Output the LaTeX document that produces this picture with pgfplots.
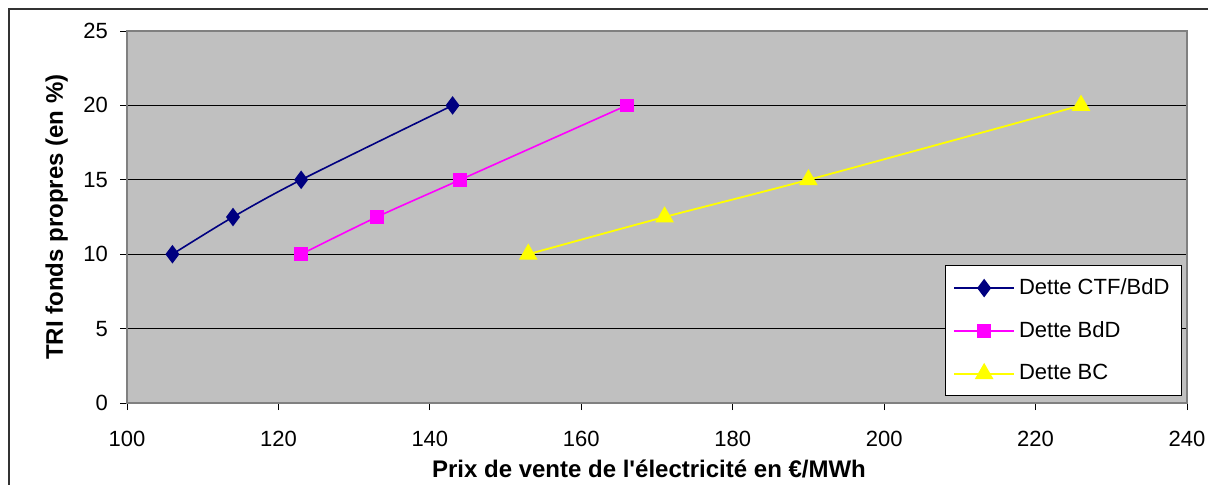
\documentclass[border=0pt]{standalone}
\usepackage{pgfplots}
\pgfplotsset{compat=1.18}
\usepackage{fontspec}
\setmainfont{Liberation Sans}[Ligatures=TeXOff]
\definecolor{plotbg}{HTML}{C0C0C0}
\definecolor{navyc}{HTML}{000080}
\definecolor{magc}{HTML}{FF00FF}
\definecolor{yelc}{HTML}{FFFF00}
\begin{document}
\begin{tikzpicture}[x=1pt,y=1pt]
\useasboundingbox (0,0) rectangle (604,242);
\draw[line width=0.9pt, black!80] (4.5,-2) -- (4.5,237.5) -- (606,237.5);
\begin{axis}[
  at={(63.5pt,40.5pt)}, anchor=south west,
  scale only axis, width=530pt, height=186pt,
  xmin=100, xmax=240, ymin=0, ymax=25,
  xtick={100,120,...,240}, ytick={0,5,...,25},
  xtick pos=lower, ytick pos=left,
  axis background/.style={fill=plotbg},
  axis line style={draw=black!50, line width=0.8pt},
  ymajorgrids, grid style={black, line width=0.5pt},
  tick align=outside, major tick length=3.5pt,
  tick style={black, line width=0.5pt},
  /pgf/number format/assume math mode=true,
  /pgf/number format/1000 sep={},
  tick label style={font=\fontsize{11}{13}\selectfont},
  xticklabel style={yshift=-7pt},
  yticklabel style={xshift=-2.5pt},
  xlabel={\textbf{Prix de vente de l'électricité en €/MWh}},
  ylabel={\textbf{TRI fonds propres (en \%)}},
  label style={font=\fontsize{12}{14}\selectfont},
  xlabel style={yshift=0pt, xshift=-4pt},
  ylabel style={yshift=1pt},
  legend style={at={(0.9953,0.371)}, anchor=north east, fill=white, draw=black, line width=0.6pt,
    font=\fontsize{11}{13}\selectfont, row sep=8pt, inner xsep=4pt, inner ysep=4.5pt},
  legend cell align=left,
  legend image code/.code={\draw[#1, mark repeat=2, mark phase=2] plot coordinates {(0pt,0pt) (15pt,0pt) (30pt,0pt)};},
  clip=false,
]
\addplot[navyc, line width=0.8pt, smooth, tension=0.5, mark=diamond*, mark size=4pt, mark options={solid}] coordinates {
(106,10) (114,12.5) (123,15) (143,20)};
\addlegendentry{Dette CTF/BdD}
\addplot[magc, line width=0.8pt, smooth, tension=0.5, mark=square*, mark size=3pt] coordinates {
(123,10) (133,12.5) (144,15) (166,20)};
\addlegendentry{Dette BdD}
\addplot[yelc, line width=0.9pt, smooth, tension=0.5, mark=triangle*, mark size=4.5pt] coordinates {
(153,10) (171,12.5) (190,15) (226,20)};
\addlegendentry{Dette BC}
\end{axis}
\end{tikzpicture}
\end{document}
